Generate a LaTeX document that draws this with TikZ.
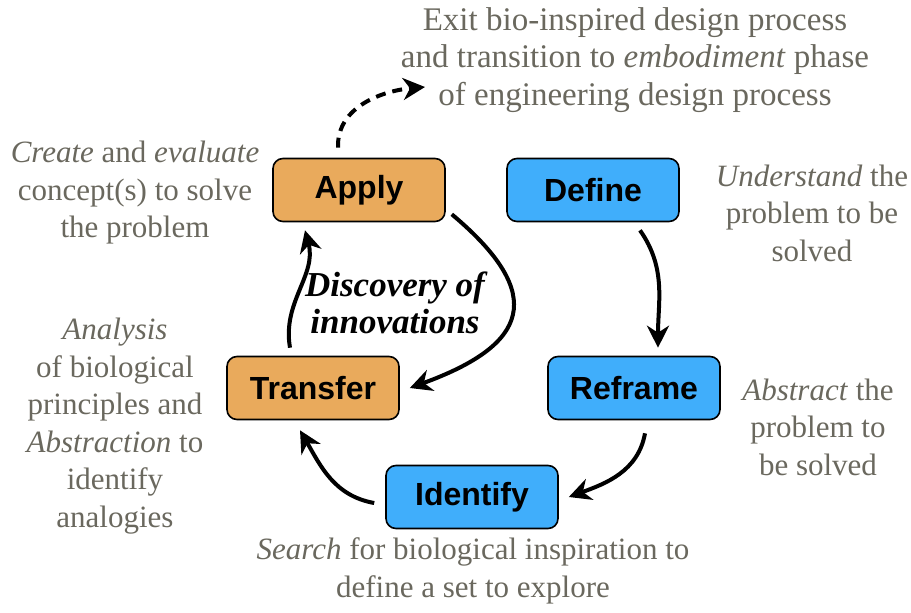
\documentclass[tikz,border=0pt]{standalone}
\usepackage{fontspec}
\setmainfont{Liberation Serif}
\newfontfamily\boxfont{Liberation Sans}
\usetikzlibrary{arrows.meta}
\definecolor{applyorange}{RGB}{233,170,92}
\definecolor{defineblue}{RGB}{64,174,251}
\definecolor{notegray}{RGB}{106,104,94}

\begin{document}
\begin{tikzpicture}[x=1pt,y=1pt]

	\tikzstyle{stage}=[draw,rectangle,rounded corners=10pt,line width=1.6pt,minimum width=172pt,minimum height=63pt,font=\boxfont\bfseries\fontsize{32}{36}\selectfont]
	\tikzstyle{note}=[align=center,inner sep=0pt,text=notegray,font=\fontsize{31}{37.5}\selectfont]
	\tikzstyle{cyc}=[line width=4pt,-{Stealth[length=22pt,width=22pt,inset=7pt]}]

	\useasboundingbox (0,0) rectangle (911,-613);

	\node[stage,fill=applyorange] (apply) at (359,-190) {Apply};
	\node[stage,fill=defineblue] (define) at (593,-190) {Define};
	\node[stage,fill=defineblue] (reframe) at (634,-388) {Reframe};
	\node[stage,fill=defineblue] (identify) at (472,-497) {Identify};
	\node[stage,fill=applyorange] (transfer) at (313,-388) {Transfer};

	\node[note,font=\fontsize{33}{37.5}\selectfont] (exit) at (635,-60) {Exit bio-inspired design process\\and transition to \textit{embodiment} phase\\of engineering design process};
	\node[note] (applynote) at (135,-193) {\textit{Create} and \textit{evaluate}\\concept(s) to solve\\the problem};
	\node[note] (definenote) at (812,-213) {\textit{Understand} the\\problem to be\\solved};
	\node[note] (reframenote) at (818,-427) {\textit{Abstract} the\\problem to\\be solved};
	\node[note] (identifynote) at (473,-571) {\textit{Search} for biological inspiration to\\define a set to explore};
	\node[note] (transfernote) at (115,-426) {\textit{Analysis}\\of biological\\principles and\\\textit{Abstraction} to\\identify\\analogies};

	\node[align=center,inner sep=0pt,font=\bfseries\itshape\fontsize{35}{37}\selectfont] (discovery) at (395,-303) {Discovery of\\innovations};

	\coordinate (exitpt) at (425,-87);

	\draw[cyc] ([xshift=47pt,yshift=-8pt]define.south) to[out=-55,in=90] ([xshift=24pt,yshift=8pt]reframe.north);
	\draw[cyc] ([xshift=11pt,yshift=-13pt]reframe.south) to[out=-100,in=20] ([xshift=10pt]identify.east);
	\draw[cyc] ([xshift=-11pt,yshift=-6pt]identify.west) to[out=170,in=-60] ([xshift=-13pt,yshift=-10pt]transfer.south);
	\draw[cyc] ([xshift=-23pt,yshift=8pt]transfer.north) to[out=100,in=-75] ([xshift=-54pt,yshift=-8pt]apply.south);
	\draw[cyc] ([xshift=6pt,yshift=8pt]apply.south east) to[out=-40,in=20,looseness=1.8] ([xshift=10pt]transfer.east);

	\draw[cyc,dash pattern=on 10pt off 7pt] ([xshift=-21pt,yshift=10pt]apply.north) to[out=92,in=185] (exitpt);

\end{tikzpicture}
\end{document}
